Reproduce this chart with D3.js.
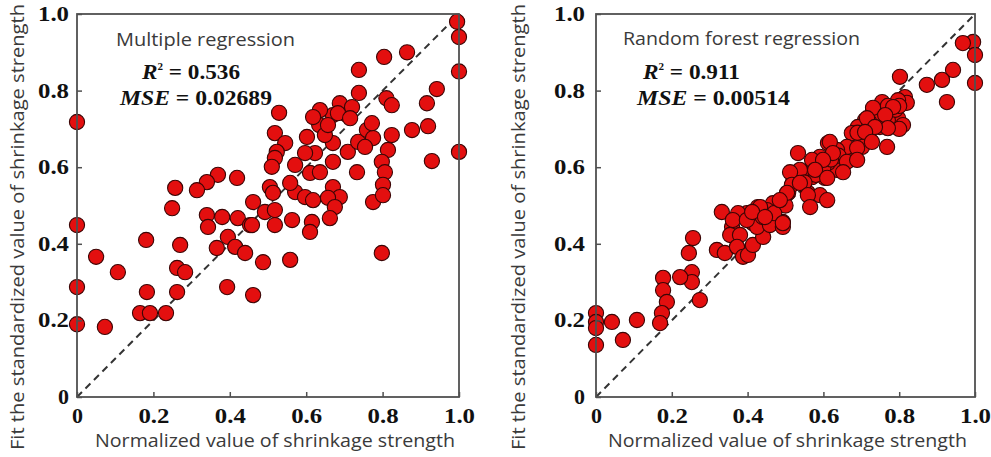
<!DOCTYPE html>
<html>
<head>
<meta charset="utf-8">
<script src="https://cdn.jsdelivr.net/npm/d3@7"></script>
<style>
  html, body { margin: 0; padding: 0; background: #fff; }
  svg { display: block; }
</style>
</head>
<body>
<script>
/* DATA */
var tickValues = [0, 0.2, 0.4, 0.6, 0.8, 1.0];
var tickLabels = ['0', '0.2', '0.4', '0.6', '0.8', '1.0'];
var xTitle = 'Normalized value of shrinkage strength';
var yTitle = 'Fit the standardized value of shrinkage strength';
var panelTitles = ['Multiple regression', 'Random forest regression'];
var r2Values  = ['0.536', '0.911'];
var mseValues = ['0.02689', '0.00514'];

// [normalized value, fitted value]
var multipleData = [
  [0.995,0.98],[1.0,0.94],[1.0,0.85],[1.0,0.64],[0.864,0.90],[0.804,0.888],[0.738,0.854],
  [0.738,0.794],[0.942,0.804],[0.916,0.767],[0.81,0.78],[0.824,0.762],[0.877,0.697],
  [0.919,0.707],[0.929,0.616],[0,0.718],[0.529,0.742],[0.518,0.689],[0.545,0.663],
  [0.523,0.64],[0.518,0.624],[0.51,0.601],[0.571,0.606],[0.602,0.679],[0.623,0.637],
  [0.597,0.637],[0.61,0.585],[0.636,0.587],[0.634,0.71],[0.67,0.736],[0.688,0.767],
  [0.636,0.749],[0.707,0.736],[0.72,0.757],[0.67,0.663],[0.649,0.684],[0.67,0.614],
  [0.709,0.64],[0.736,0.666],[0.759,0.697],[0.775,0.676],[0.772,0.715],[0.754,0.653],
  [0.824,0.684],[0.814,0.645],[0.798,0.614],[0.806,0.587],[0.801,0.554],[0.733,0.587],
  [0.775,0.509],[0.67,0.548],[0.688,0.522],[0.571,0.535],[0.597,0.522],[0.618,0.514],
  [0.461,0.509],[0.505,0.548],[0.513,0.533],[0.369,0.58],[0.34,0.561],[0.314,0.54],
  [0.419,0.572],[0.257,0.546],[0.249,0.493],[0.34,0.475],[0.343,0.444],[0.38,0.47],
  [0.421,0.467],[0.453,0.449],[0.395,0.418],[0.366,0.389],[0.414,0.392],[0.44,0.376],
  [0.393,0.287],[0.461,0.266],[0,0.449],[0.05,0.366],[0.107,0.326],[0.181,0.41],
  [0.27,0.397],[0.262,0.337],[0.283,0.326],[0.183,0.274],[0.262,0.274],[0,0.287],
  [0.165,0.219],[0.191,0.219],[0.233,0.219],[0,0.19],[0.073,0.183],[0.618,0.731],
  [0.657,0.71],[0.683,0.741],[0.715,0.728],[0.801,0.527],[0.558,0.559],[0.657,0.52],
  [0.675,0.496],[0.662,0.467],[0.563,0.462],[0.615,0.457],[0.61,0.431],[0.492,0.483],
  [0.518,0.488],[0.518,0.449],[0.458,0.449],[0.798,0.376],[0.558,0.358],[0.487,0.352]
];

var forestData = [
  [0.995,0.927],[0.968,0.924],[1.0,0.893],[1.0,0.82],[0.942,0.854],[0.913,0.828],[0.926,0.77],
  [0.873,0.815],[0.802,0.836],[0.815,0.783],[0.82,0.768],[0.797,0.775],[0.755,0.77],
  [0.731,0.749],[0.797,0.728],[0.81,0.71],[0.77,0.723],[0.749,0.705],[0.71,0.723],
  [0.691,0.705],[0.675,0.689],[0.723,0.671],[0.768,0.653],[0.702,0.653],[0.678,0.64],
  [0.662,0.653],[0.636,0.645],[0.612,0.663],[0.652,0.614],[0.636,0.593],[0.612,0.611],
  [0.591,0.627],[0.573,0.611],[0.596,0.598],[0.604,0.572],[0.57,0.574],[0.538,0.593],
  [0.533,0.637],[0.52,0.561],[0.559,0.533],[0.591,0.527],[0.507,0.533],[0.491,0.514],
  [0.467,0.506],[0.451,0.488],[0.427,0.496],[0.398,0.48],[0.375,0.48],[0.332,0.483],
  [0.493,0.457],[0.459,0.457],[0.359,0.444],[0.414,0.454],[0.256,0.415],[0.245,0.376],
  [0.253,0.326],[0.253,0.3],[0.222,0.313],[0.274,0.253],[0.177,0.311],[0.177,0.279],
  [0.187,0.248],[0.174,0.219],[0.169,0.193],[0.108,0.201],[0.071,0.149],[0.042,0.196],
  [0,0.219],[0,0.196],[0,0.18],[0,0.136],[0.319,0.384],[0.34,0.376],[0.354,0.423],
  [0.38,0.423],[0.372,0.392],[0.388,0.366],[0.401,0.371],[0.414,0.397],[0.441,0.418],
  [0.425,0.444],[0.459,0.449],[0.493,0.444],[0.361,0.462],[0.398,0.462],[0.58,0.58],
  [0.55,0.56],[0.6,0.6],[0.64,0.63],[0.69,0.69],[0.745,0.74],[0.77,0.76],[0.79,0.75],
  [0.8,0.7],[0.8,0.76],[0.72,0.72],[0.62,0.62],[0.5,0.5],[0.44,0.47],[0.47,0.48],
  [0.731,0.755],[0.784,0.757],[0.763,0.736],[0.715,0.728],[0.77,0.702],[0.736,0.705],
  [0.71,0.692],[0.728,0.666],[0.617,0.666],[0.689,0.65],[0.625,0.637],[0.57,0.619],
  [0.599,0.619],[0.662,0.614],[0.689,0.619],[0.512,0.587],[0.578,0.593],[0.61,0.572],
  [0.652,0.587],[0.517,0.554],[0.538,0.559],[0.504,0.533],[0.559,0.527],[0.61,0.514],
  [0.565,0.496],[0.485,0.514],[0.433,0.496],[0.493,0.454],[0.412,0.483],[0.446,0.47]
];

/* LAYOUT */
var w = 991, h = 457;
var panels = [
  { data: multipleData, left: 77,  right: 459, top: 14, bottom: 397, yTitleX: 24, yPad: 8,
    title: { x: 116, y: 46, len: 179 }, r2: { x: 142, y: 79, len: 98 }, mse: { x: 120, y: 105, len: 152 },
    xTitle: { x: 95, len: 360 } },
  { data: forestData,   left: 596, right: 975, top: 14, bottom: 397, yTitleX: 525, yPad: 11,
    title: { x: 623, y: 45, len: 237 }, r2: { x: 643, y: 79, len: 97 }, mse: { x: 637, y: 105, len: 153 },
    xTitle: { x: 608, len: 359 } }
];

var c = {
  frame: '#505050',
  fill:  '#e30f0f',
  edge:  '#3a0505',
  text:  '#3a3a3a',
  dash:  '#333'
};
var serif = '"Liberation Serif", "Times New Roman", serif';
var sans  = '"Open Sans", "Noto Sans", sans-serif';

var svg = d3.select('body').append('svg')
  .attr('width', w)
  .attr('height', h);

panels.forEach(function(p, i){
  var x = d3.scaleLinear().domain([0, 1]).range([p.left, p.right]);
  var y = d3.scaleLinear().domain([0, 1]).range([p.bottom, p.top]);
  var g = svg.append('g');

  // diagonal reference line
  g.append('line')
    .attr('x1', x(0)).attr('y1', y(0))
    .attr('x2', x(1)).attr('y2', y(1))
    .attr('stroke', c.dash)
    .attr('stroke-width', 2)
    .attr('stroke-dasharray', '7,5');

  // points
  g.selectAll('circle')
    .data(p.data)
    .enter()
    .append('circle')
      .attr('cx', function(d){ return x(d[0]); })
      .attr('cy', function(d){ return y(d[1]); })
      .attr('r', 7.6)
      .attr('fill', c.fill)
      .attr('stroke', c.edge)
      .attr('stroke-width', 1.1);

  // axes, ticks pointing inward
  var fmt = function(d){ return tickLabels[tickValues.indexOf(d)]; };
  var xAxis = g.append('g')
    .attr('transform', 'translate(0,' + p.bottom + ')')
    .call(d3.axisBottom(x).tickValues(tickValues).tickFormat(fmt).tickSizeInner(-5).tickSizeOuter(0));
  var yAxis = g.append('g')
    .attr('transform', 'translate(' + p.left + ',0)')
    .call(d3.axisLeft(y).tickValues(tickValues).tickFormat(fmt).tickSizeInner(-5).tickSizeOuter(0).tickPadding(p.yPad));

  [xAxis, yAxis].forEach(function(a){
    a.select('.domain').remove();
    a.selectAll('line').attr('stroke', c.frame).attr('stroke-width', 1.5);
    a.selectAll('text')
      .attr('fill', '#111')
      .attr('textLength', function(d){ return d === 0 ? 11 : 31; })
      .attr('lengthAdjust', 'spacingAndGlyphs')
      .style('font-family', serif)
      .style('font-weight', 'bold')
      .style('font-size', '20px');
  });
  xAxis.selectAll('text').attr('dy', '0.71em').attr('y', 12);

  // frame
  g.append('rect')
    .attr('x', p.left).attr('y', p.top)
    .attr('width', p.right - p.left)
    .attr('height', p.bottom - p.top)
    .attr('fill', 'none')
    .attr('stroke', c.frame)
    .attr('stroke-width', 1.8);

  // axis titles
  g.append('text')
    .attr('x', p.xTitle.x).attr('y', 447)
    .attr('textLength', p.xTitle.len)
    .attr('lengthAdjust', 'spacingAndGlyphs')
    .attr('fill', c.text)
    .style('font-family', sans)
    .style('font-size', '18px')
    .text(xTitle);

  g.append('text')
    .attr('transform', 'translate(' + p.yTitleX + ',450) rotate(-90)')
    .attr('textLength', 446)
    .attr('lengthAdjust', 'spacingAndGlyphs')
    .attr('fill', c.text)
    .style('font-family', sans)
    .style('font-size', '18px')
    .text(yTitle);

  // annotations
  g.append('text')
    .attr('x', p.title.x).attr('y', p.title.y)
    .attr('textLength', p.title.len)
    .attr('lengthAdjust', 'spacingAndGlyphs')
    .attr('fill', c.text)
    .style('font-family', sans)
    .style('font-size', '18px')
    .text(panelTitles[i]);

  var r2 = g.append('text')
    .attr('x', p.r2.x).attr('y', p.r2.y)
    .attr('textLength', p.r2.len)
    .attr('lengthAdjust', 'spacingAndGlyphs')
    .attr('fill', '#111')
    .style('font-family', serif)
    .style('font-weight', 'bold')
    .style('font-size', '21px');
  r2.append('tspan').style('font-style', 'italic').text('R');
  r2.append('tspan').attr('dy', -9).style('font-size', '10px').text('2');
  r2.append('tspan').attr('dy', 9).text(' = ' + r2Values[i]);

  var mse = g.append('text')
    .attr('x', p.mse.x).attr('y', p.mse.y)
    .attr('textLength', p.mse.len)
    .attr('lengthAdjust', 'spacingAndGlyphs')
    .attr('fill', '#111')
    .style('font-family', serif)
    .style('font-weight', 'bold')
    .style('font-size', '21px');
  mse.append('tspan').style('font-style', 'italic').text('MSE');
  mse.append('tspan').text(' = ' + mseValues[i]);
});
</script>
</body>
</html>
